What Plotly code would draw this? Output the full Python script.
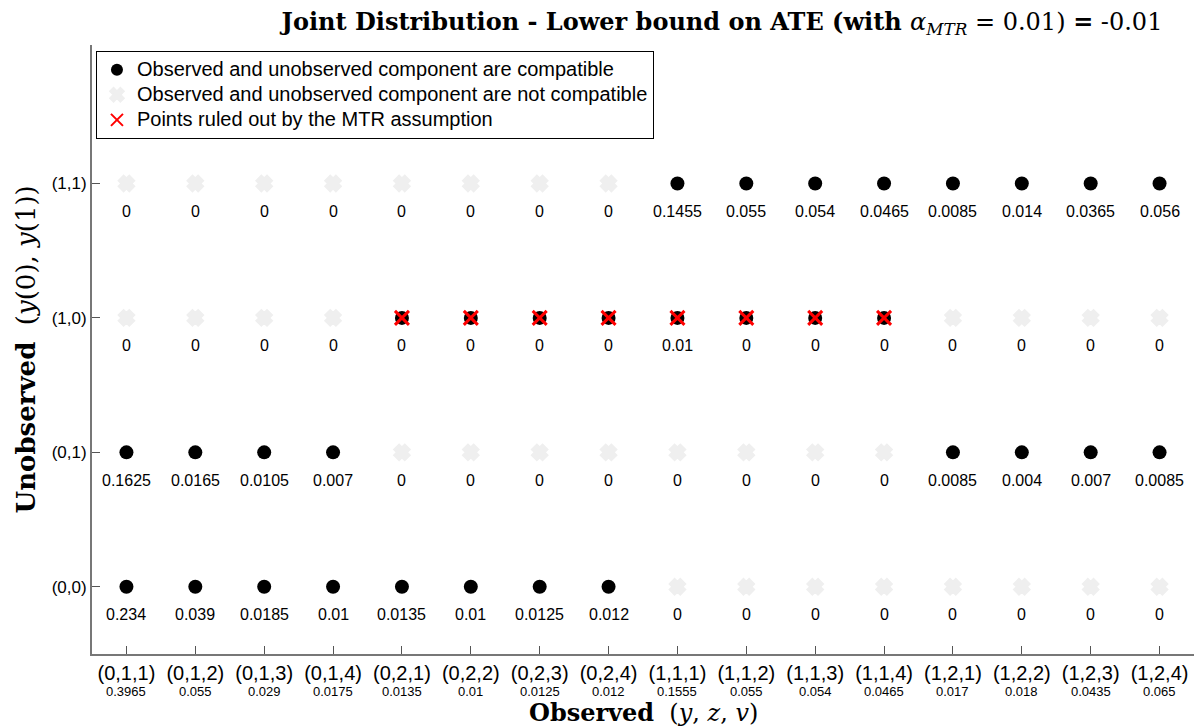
import plotly.graph_objects as go

# ---------------- data ----------------
observed_labels = ["(0,1,1)", "(0,1,2)", "(0,1,3)", "(0,1,4)", "(0,2,1)", "(0,2,2)", "(0,2,3)", "(0,2,4)",
                   "(1,1,1)", "(1,1,2)", "(1,1,3)", "(1,1,4)", "(1,2,1)", "(1,2,2)", "(1,2,3)", "(1,2,4)"]
observed_marginal = [0.3965, 0.055, 0.029, 0.0175, 0.0135, 0.01, 0.0125, 0.012,
                     0.1555, 0.055, 0.054, 0.0465, 0.017, 0.018, 0.0435, 0.065]
unobserved_labels = ["(0,0)", "(0,1)", "(1,0)", "(1,1)"]

prob_00 = [0.234, 0.039, 0.0185, 0.01, 0.0135, 0.01, 0.0125, 0.012, 0, 0, 0, 0, 0, 0, 0, 0]
prob_01 = [0.1625, 0.0165, 0.0105, 0.007, 0, 0, 0, 0, 0, 0, 0, 0, 0.0085, 0.004, 0.007, 0.0085]
prob_10 = [0, 0, 0, 0, 0, 0, 0, 0, 0.01, 0, 0, 0, 0, 0, 0, 0]
prob_11 = [0, 0, 0, 0, 0, 0, 0, 0, 0.1455, 0.055, 0.054, 0.0465, 0.0085, 0.014, 0.0365, 0.056]

compat_00 = [1, 1, 1, 1, 1, 1, 1, 1, 0, 0, 0, 0, 0, 0, 0, 0]
compat_01 = [1, 1, 1, 1, 0, 0, 0, 0, 0, 0, 0, 0, 1, 1, 1, 1]
compat_10 = [0, 0, 0, 0, 1, 1, 1, 1, 1, 1, 1, 1, 0, 0, 0, 0]
compat_11 = [0, 0, 0, 0, 0, 0, 0, 0, 1, 1, 1, 1, 1, 1, 1, 1]

mtr_ruled_out_10 = [0, 0, 0, 0, 1, 1, 1, 1, 1, 1, 1, 1, 0, 0, 0, 0]

legend_names = ["Observed and unobserved component are compatible",
                "Observed and unobserved component are not compatible",
                "Points ruled out by the MTR assumption"]

title_text = ("<b>Joint Distribution - Lower bound on ATE (with </b><i>α</i><sub><i>MTR</i></sub>"
              " = 0.01) <b>=</b> -0.01")

# ---------------- build ----------------
probs = [prob_00, prob_01, prob_10, prob_11]
compats = [compat_00, compat_01, compat_10, compat_11]
mtrs = [[0] * 16, [0] * 16, mtr_ruled_out_10, [0] * 16]

xs = list(range(1, len(observed_labels) + 1))
ys = list(range(1, len(unobserved_labels) + 1))

cx, cy, nx, ny, mx, my = [], [], [], [], [], []
annotations = []
for r, yv in enumerate(ys):
    for c, xv in enumerate(xs):
        if compats[r][c]:
            cx.append(xv); cy.append(yv)
        else:
            nx.append(xv); ny.append(yv)
        if mtrs[r][c]:
            mx.append(xv); my.append(yv)
        annotations.append(dict(x=xv, y=yv, xref="x", yref="y", text=f"{probs[r][c]:g}",
                                showarrow=False, yshift=-28,
                                font=dict(family="Liberation Sans", size=16, color="black")))

# observed marginals below the tick labels
for xv, m in zip(xs, observed_marginal):
    annotations.append(dict(x=xv, y=0, xref="x", yref="paper", text=f"{m:g}",
                            showarrow=False, yanchor="middle", yshift=-37,
                            font=dict(family="Liberation Sans", size=13, color="black")))


def lg(name):
    return f"<span style='font-size:20px'>{name}</span>"


fig = go.Figure()
fig.add_trace(go.Scatter(x=cx, y=cy, mode="markers", name=lg(legend_names[0]),
                         marker=dict(symbol="circle", size=14, color="black")))
fig.add_trace(go.Scatter(x=nx, y=ny, mode="markers", name=lg(legend_names[1]),
                         marker=dict(symbol="x", size=10, color="#efefef",
                                     line=dict(color="#efefef", width=5))))
fig.add_trace(go.Scatter(x=mx, y=my, mode="markers", name=lg(legend_names[2]),
                         marker=dict(symbol="x-thin", size=14, color="red",
                                     line=dict(color="red", width=3))))

annotations.append(dict(x=0.5, y=0, xref="paper", yref="paper", yanchor="middle", yshift=-58,
                        showarrow=False,
                        text="<b>Observed</b>  (<i>y</i>, <i>z</i>, <i>v</i>)",
                        font=dict(family="DejaVu Serif", size=24, color="black")))
annotations.append(dict(x=0, y=0.5, xref="paper", yref="paper", xanchor="center", xshift=-67,
                        textangle=-90, showarrow=False,
                        text="<b>Unobserved</b>  (<i>y</i>(0), <i>y</i>(1))",
                        font=dict(family="DejaVu Serif", size=26, color="black")))

fig.update_layout(
    width=1196, height=720,
    margin=dict(l=84, r=10, t=37, b=74),
    paper_bgcolor="white", plot_bgcolor="white",
    title=dict(text=title_text, x=0.597, xanchor="center", y=0.9806, yanchor="middle",
               font=dict(family="DejaVu Serif", size=24, color="black")),
    showlegend=True,
    legend=dict(x=0.0036, y=0.99, xanchor="left", yanchor="top",
                bgcolor="white", bordercolor="black", borderwidth=1,
                font=dict(family="Liberation Sans", size=17, color="black"),
                tracegroupgap=0, itemsizing="constant"),
    annotations=annotations,
)
fig.update_xaxes(range=[0.5, 16.5], tickmode="array", tickvals=xs, ticktext=observed_labels,
                 showgrid=False, zeroline=False, showline=True, linecolor="#777777", linewidth=1.5,
                 ticks="inside", ticklen=8, tickcolor="#555555", tickwidth=1,
                 tickfont=dict(family="Liberation Sans", size=20, color="black"))
fig.update_yaxes(range=[0.5, 5.03], tickmode="array", tickvals=ys, ticktext=unobserved_labels,
                 showgrid=False, zeroline=False, showline=True, linecolor="#777777", linewidth=2,
                 ticks="inside", ticklen=8, tickcolor="#555555", tickwidth=1,
                 tickfont=dict(family="Liberation Sans", size=17, color="black"))

fig.write_html("out.html")
